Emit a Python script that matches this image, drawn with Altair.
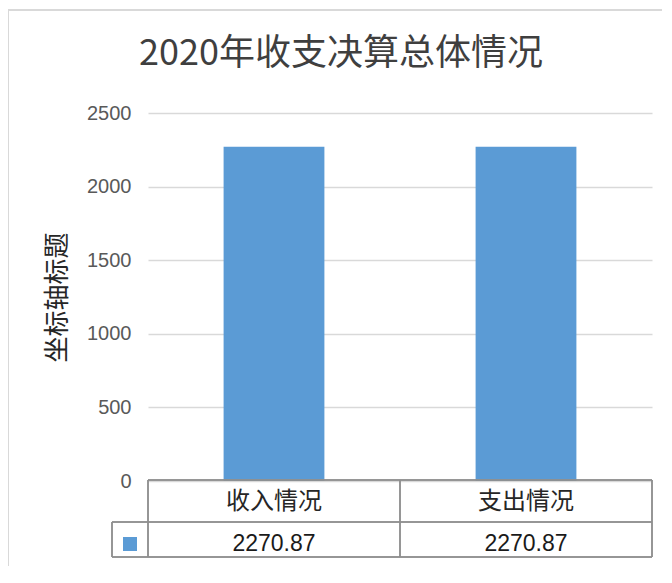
import altair as alt
import pandas as pd

title_text = "2020年收支决算总体情况"
y_title = "坐标轴标题"
categories = ["收入情况", "支出情况"]
values = [2270.87, 2270.87]
y_ticks = [0, 500, 1000, 1500, 2000, 2500]

df = pd.DataFrame({"category": categories, "value": values})

BLUE = "#5B9BD5"
LINE = "#8F8F8F"
CJK = "Noto Sans CJK SC"

xscale = alt.Scale(domain=categories, paddingInner=0.6, paddingOuter=0.3)
x_enc = alt.X("category:N", scale=xscale, axis=None, sort=categories)

base = alt.Chart(df)

border = base.mark_rect(fill=None, stroke="#D9D9D9", strokeWidth=2).encode(
    x=alt.value(-140), x2=alt.value(800), y=alt.value(-103), y2=alt.value(800)
)

bars = base.mark_bar(color=BLUE).encode(
    x=x_enc,
    y=alt.Y(
        "value:Q",
        scale=alt.Scale(domain=[0, 2500]),
        axis=alt.Axis(
            values=y_ticks,
            format="d",
            title=y_title,
            titleFont=CJK,
            titleFontSize=26,
            titleFontWeight="normal",
            titleColor="#262626",
            titleAngle=-90,
            titleX=-91,
            titleY=184,
            titleAlign="center",
            titleBaseline="middle",
            labelFont="Liberation Sans",
            labelFontSize=20,
            labelColor="#595959",
            labelPadding=17,
            ticks=False,
            domain=False,
            grid=True,
            gridColor="#D9D9D9",
            gridWidth=1.3,
        ),
    ),
)

header_text = base.mark_text(
    font=CJK, fontSize=24, color="#262626", baseline="middle", align="center"
).encode(x=x_enc, y=alt.value(389), text="category:N")

value_text = base.mark_text(
    font="Liberation Sans", fontSize=23, color="#1a1a1a", baseline="middle", align="center"
).encode(x=x_enc, y=alt.value(431), text=alt.Text("value:Q", format=".2f"))

def hrule(y, x1, x2):
    return base.mark_rule(color=LINE, strokeWidth=1.5).encode(
        x=alt.value(x1), x2=alt.value(x2), y=alt.value(y)
    )

def vrule(x, y1, y2):
    return base.mark_rule(color=LINE, strokeWidth=1.5).encode(
        x=alt.value(x), y=alt.value(y1), y2=alt.value(y2)
    )

lines = [
    hrule(367, 0, 504),
    hrule(409, -36, 504),
    hrule(444, -36, 504),
    vrule(0, 367, 444),
    vrule(252, 367, 444),
    vrule(504, 367, 444),
    vrule(-36, 409, 444),
]

legend_sq = base.mark_rect(color=BLUE).encode(
    x=alt.value(-25), x2=alt.value(-11), y=alt.value(424), y2=alt.value(438)
)

chart = alt.layer(border, bars, *lines, header_text, value_text, legend_sq).properties(
    width=504,
    height=368,
    autosize=alt.AutoSizeParams(type="none"),
    padding={"left": 140, "top": 105, "right": 10, "bottom": 85},
    title=alt.TitleParams(
        title_text,
        font=CJK,
        fontSize=36,
        fontWeight="normal",
        color="#3F3F3F",
        anchor="middle",
        dx=-59,
        dy=64,
        offset=0,
    ),
).configure_view(stroke=None)

chart.save("out.html", embed_options={"renderer": "svg", "actions": False})
